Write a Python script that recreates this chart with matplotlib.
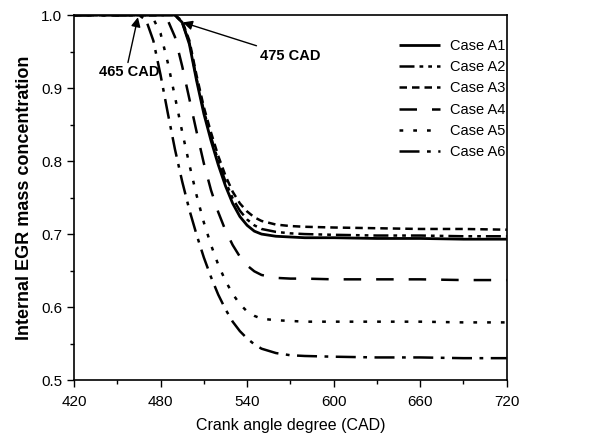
import matplotlib
matplotlib.use("Agg")
import matplotlib.pyplot as plt
from matplotlib.ticker import MultipleLocator

plt.rcParams['font.family'] = ['Liberation Sans', 'DejaVu Sans']

cad = [420, 450, 460, 465, 470, 475, 480, 485, 490, 495, 500, 505, 510, 515, 520,
       525, 530, 535, 540, 545, 550, 560, 570, 580, 600, 630, 660, 690, 720]

case_a1 = [1.0, 1.0, 1.0, 1.0, 1.0, 1.0, 1.0, 1.0, 1.0, 0.99, 0.96, 0.91, 0.865, 0.828, 0.795,
           0.766, 0.742, 0.724, 0.712, 0.704, 0.70, 0.697, 0.696, 0.695, 0.695, 0.694, 0.694, 0.693, 0.693]
case_a2 = [1.0, 1.0, 1.0, 1.0, 1.0, 1.0, 1.0, 1.0, 1.0, 0.99, 0.962, 0.913, 0.869, 0.833, 0.80,
           0.772, 0.749, 0.732, 0.72, 0.712, 0.707, 0.703, 0.701, 0.70, 0.699, 0.698, 0.698, 0.697, 0.697]
case_a3 = [1.0, 1.0, 1.0, 1.0, 1.0, 1.0, 1.0, 1.0, 1.0, 0.992, 0.965, 0.917, 0.874, 0.839, 0.807,
           0.78, 0.758, 0.742, 0.731, 0.723, 0.718, 0.713, 0.711, 0.71, 0.709, 0.708, 0.707, 0.707, 0.706]
case_a4 = [1.0, 1.0, 1.0, 1.0, 1.0, 1.0, 1.0, 0.993, 0.97, 0.93, 0.885, 0.84, 0.797, 0.76, 0.73,
           0.705, 0.685, 0.669, 0.657, 0.649, 0.644, 0.64, 0.639, 0.639, 0.638, 0.638, 0.638, 0.637, 0.637]
case_a5 = [1.0, 1.0, 1.0, 1.0, 1.0, 0.995, 0.975, 0.935, 0.888, 0.84, 0.795, 0.753, 0.716, 0.685, 0.658,
           0.636, 0.618, 0.604, 0.594, 0.588, 0.584, 0.582, 0.581, 0.58, 0.58, 0.58, 0.58, 0.579, 0.579]
case_a6 = [1.0, 1.0, 1.0, 1.0, 0.993, 0.965, 0.918, 0.866, 0.816, 0.772, 0.733, 0.699, 0.668, 0.641, 0.617,
           0.597, 0.58, 0.567, 0.557, 0.549, 0.543, 0.537, 0.534, 0.533, 0.532, 0.531, 0.531, 0.53, 0.53]

labels = ["Case A1", "Case A2", "Case A3", "Case A4", "Case A5", "Case A6"]
series = [case_a1, case_a2, case_a3, case_a4, case_a5, case_a6]
styles = [(0, ()), (0, (6, 2, 1.5, 2, 1.5, 2)), (0, (3, 2)), (0, (7, 6)),
          (0, (1.5, 4)), (0, (8, 3, 1.5, 3))]
widths = [2.0, 1.8, 1.8, 1.8, 1.8, 1.8]

fig = plt.figure(figsize=(5.92, 4.44), dpi=100)
ax = fig.add_axes([0.125, 0.144, 0.731, 0.822])

for y, lab, ls, lw in zip(series, labels, styles, widths):
    ax.plot(cad, y, color='black', linestyle=ls, linewidth=lw, label=lab)

ax.set_xlim(420, 720)
ax.set_ylim(0.5, 1.0)
ax.xaxis.set_major_locator(MultipleLocator(60))
ax.xaxis.set_minor_locator(MultipleLocator(30))
ax.yaxis.set_major_locator(MultipleLocator(0.1))
ax.yaxis.set_minor_locator(MultipleLocator(0.05))
ax.yaxis.set_major_formatter(plt.FormatStrFormatter('%.1f'))
ax.tick_params(which='major', direction='out', length=5, width=1, labelsize=11)
ax.tick_params(axis='x', which='major', pad=6)
ax.tick_params(which='minor', direction='out', length=3, width=1)
for s in ax.spines.values():
    s.set_linewidth(1.2)

ax.set_xlabel("Crank angle degree (CAD)", fontsize=11.5, labelpad=6)
ax.set_ylabel("Internal EGR mass concentration", fontsize=13, fontweight='bold', labelpad=6)

arrow_kw = dict(arrowstyle='-|>', color='black', lw=1, mutation_scale=14, shrinkA=0, shrinkB=0)
ax.text(458.5, 0.922, "465 CAD", fontsize=10.5, fontweight='bold', ha='center', va='center')
ax.annotate("", xy=(464.3, 0.997), xytext=(457.4, 0.935), arrowprops=arrow_kw)
ax.text(570, 0.944, "475 CAD", fontsize=10.5, fontweight='bold', ha='center', va='center')
ax.annotate("", xy=(495.5, 0.99), xytext=(546.5, 0.958), arrowprops=arrow_kw)

leg = ax.legend(loc='upper left', frameon=False, fontsize=10.5, handlelength=2.8,
                handletextpad=0.7, labelspacing=0.5, borderpad=0, borderaxespad=0,
                bbox_to_anchor=(0.752, 0.935))

fig.savefig("out.png", dpi=100)
